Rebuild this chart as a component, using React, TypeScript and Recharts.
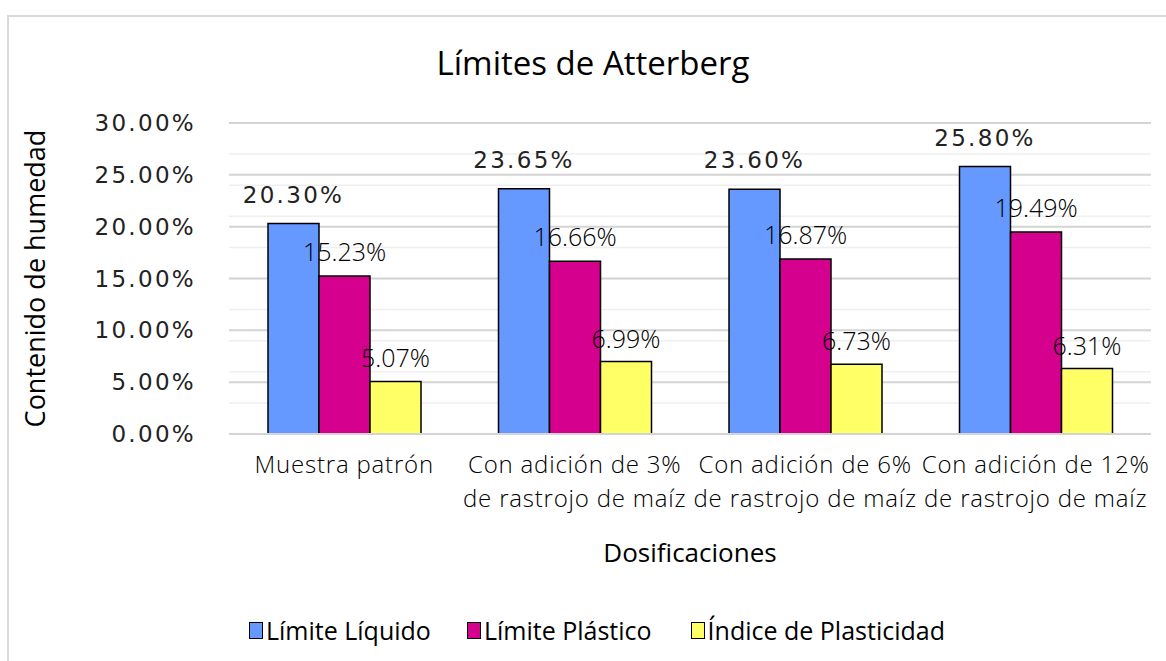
import React from "react"
import {
    BarChart,
    Bar,
    XAxis,
    YAxis,
    CartesianGrid,
    LabelList,
    Label
} from "recharts"

const categories = [
    "Muestra patrón",
    "Con adición de 3%|de rastrojo de maíz",
    "Con adición de 6%|de rastrojo de maíz",
    "Con adición de 12%|de rastrojo de maíz"
]
const limiteLiquido = [20.30, 23.65, 23.60, 25.80]
const limitePlastico = [15.23, 16.66, 16.87, 19.49]
const indicePlasticidad = [5.07, 6.99, 6.73, 6.31]
const yTicks = [0, 5, 10, 15, 20, 25, 30]
const minorTicks = Array.from({ length: 31 }, (_, i) => i)

const SERIES = [
    { key: "ll", name: "Límite Líquido", color: "#6699FF" },
    { key: "lp", name: "Límite Plástico", color: "#D6008F" },
    { key: "ip", name: "Índice de Plasticidad", color: "#FFFF66" }
]

const chartData = categories.map((name, i) => ({
    name,
    ll: limiteLiquido[i],
    lp: limitePlastico[i],
    ip: indicePlasticidad[i]
}))

const WIDE_FONT = "'DejaVu Sans', sans-serif"
const LIGHT_FONT = "'Open Sans', sans-serif"
const fmt = (v: any) => `${Number(v).toFixed(2)}%`

function CategoryTick({ x, y, payload }: any) {
    const lines = String(payload.value).split("|")
    return (
        <text x={x} y={y} textAnchor="middle" fontFamily={LIGHT_FONT} fontWeight={300} fontSize={24} letterSpacing={0.8} fill="#000">
            {lines.map((line, i) => (
                <tspan key={i} x={x} dy={i === 0 ? 31 : 34}>{line}</tspan>
            ))}
        </text>
    )
}

export default function App() {
    return (
        <div style={{ position: "absolute", left: 0, top: 0, width: 1166, height: 661, background: "#fff", overflow: "hidden" }}>
            {/* frame: only top and left edges show */}
            <div style={{ position: "absolute", left: 7, top: 15, width: 1160, height: 660, borderTop: "2px solid #d9d9d9", borderLeft: "2px solid #d9d9d9" }} />
            <div style={{ position: "absolute", left: 0, top: 40, width: 1186, textAlign: "center", fontFamily: LIGHT_FONT, fontSize: 33, color: "#000" }}>
                Límites de Atterberg
            </div>
            <div style={{ position: "absolute", left: 0, top: 0 }}>
                <BarChart
                    width={1166}
                    height={661}
                    data={chartData}
                    margin={{ top: 123, right: 15, left: 0, bottom: 87 }}
                    barCategoryGap={39}
                    barGap={0}
                >
                    <CartesianGrid vertical={false} stroke="#efefef" strokeWidth={1.5} syncWithTicks={false} horizontalValues={minorTicks} />
                    <CartesianGrid vertical={false} stroke="#d4d4d4" strokeWidth={2} horizontalValues={yTicks} />
                    <XAxis
                        dataKey="name"
                        axisLine={{ stroke: "#d4d4d4", strokeWidth: 2 }}
                        tickLine={false}
                        height={140}
                        tick={<CategoryTick />}
                        interval={0}
                    >
                        <Label value="Dosificaciones" position="insideBottom" offset={12} fontFamily={LIGHT_FONT} fontSize={26} fill="#000" />
                    </XAxis>
                    <YAxis
                        width={229}
                        domain={[0, 30]}
                        ticks={yTicks}
                        axisLine={false}
                        tickLine={false}
                        tickSize={0}
                        tickMargin={33}
                        tickFormatter={fmt}
                        tick={{ fontFamily: WIDE_FONT, fontSize: 23, fill: "#222", letterSpacing: 2.3 }}
                    >
                        <Label value="Contenido de humedad" angle={-90} position="insideLeft" offset={35} style={{ textAnchor: "middle" }} fontFamily={LIGHT_FONT} fontSize={27} fill="#000" />
                    </YAxis>
                    <Bar dataKey="ll" name={SERIES[0].name} fill={SERIES[0].color} stroke="#000" strokeWidth={1.5} isAnimationActive={false}>
                        <LabelList dataKey="ll" position="top" offset={21} formatter={fmt} fontFamily={WIDE_FONT} fontSize={23} fill="#222" letterSpacing={2.3} />
                    </Bar>
                    <Bar dataKey="lp" name={SERIES[1].name} fill={SERIES[1].color} stroke="#000" strokeWidth={1.5} isAnimationActive={false}>
                        <LabelList dataKey="lp" position="top" offset={15} formatter={fmt} fontFamily={LIGHT_FONT} fontWeight={300} fontSize={25} fill="#000" />
                    </Bar>
                    <Bar dataKey="ip" name={SERIES[2].name} fill={SERIES[2].color} stroke="#000" strokeWidth={1.5} isAnimationActive={false}>
                        <LabelList dataKey="ip" position="top" offset={14} formatter={fmt} fontFamily={LIGHT_FONT} fontWeight={300} fontSize={25} fill="#000" />
                    </Bar>
                </BarChart>
            </div>
            <div style={{ position: "absolute", left: 249, top: 613, display: "flex", fontFamily: LIGHT_FONT, fontSize: 25, color: "#000", alignItems: "center" }}>
                {SERIES.map((s, i) => (
                    <div key={s.key} style={{ display: "flex", alignItems: "center", marginRight: i === 0 ? 36 : 39 }}>
                        <span style={{ display: "inline-block", width: 12, height: 15, background: s.color, border: "1.5px solid #000", marginRight: 3 }} />
                        <span>{s.name}</span>
                    </div>
                ))}
            </div>
        </div>
    )
}
